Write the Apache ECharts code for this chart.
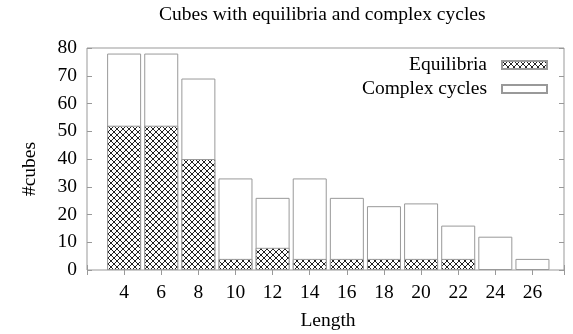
<!DOCTYPE html>
<html>
<head>
<meta charset="utf-8">
<script src="https://cdn.jsdelivr.net/npm/echarts@6/dist/echarts.min.js"></script>
<style>
  html, body { margin: 0; padding: 0; background: #fff; }
  #main { width: 573px; height: 334px; }
</style>
</head>
<body>
<div id="main"></div>
<script>
// 数据
var lengths = [4, 6, 8, 10, 12, 14, 16, 18, 20, 22, 24, 26];
var equilibria = [52, 52, 40, 4, 8, 4, 4, 4, 4, 4, 0, 0];
// 柱子总高度 (equilibria + complex cycles)
var totals = [78, 78, 69, 33, 26, 33, 26, 23, 24, 16, 12, 4];
var yTicks = [0, 10, 20, 30, 40, 50, 60, 70, 80];

var serif = 'Liberation Serif';
var fontSize = 19.5;
var frameColor = '#999';

// 交叉网纹
function hatch() {
    var c = document.createElement('canvas');
    c.width = 6;
    c.height = 6;
    var ctx = c.getContext('2d');
    ctx.fillStyle = '#fff';
    ctx.fillRect(0, 0, 6, 6);
    ctx.strokeStyle = '#222';
    ctx.lineWidth = 1;
    ctx.beginPath();
    ctx.moveTo(0, 0); ctx.lineTo(6, 6);
    ctx.moveTo(6, 0); ctx.lineTo(0, 6);
    ctx.stroke();
    return c;
}

var myChart = echarts.init(document.getElementById('main'));

myChart.setOption({
    animation: false,
    title: {
        text: 'Cubes with equilibria and complex cycles',
        left: 159,
        top: 5,
        padding: 0,
        textStyle: { fontFamily: serif, fontSize: fontSize, fontWeight: 'normal', color: '#000' }
    },
    legend: {
        orient: 'vertical',
        right: 20,
        top: 50,
        align: 'right',
        icon: 'rect',
        itemWidth: 45,
        itemHeight: 8,
        itemGap: 4,
        selectedMode: false,
        textStyle: { fontFamily: serif, fontSize: fontSize, color: '#000', padding: [0, 10, 0, 0] },
        data: ['Equilibria', 'Complex cycles']
    },
    graphic: [
        {
            type: 'text',
            x: 328,
            y: 321,
            style: { text: 'Length', font: fontSize + 'px ' + serif, fill: '#000', align: 'center', verticalAlign: 'middle' }
        },
        {
            type: 'text',
            x: 30,
            y: 169,
            rotation: Math.PI / 2,
            style: { text: '#cubes', font: fontSize + 'px ' + serif, fill: '#000', align: 'center', verticalAlign: 'middle' }
        }
    ],
    grid: {
        left: 87,
        right: 9,
        top: 48,
        bottom: 64,
        show: true,
        borderColor: frameColor,
        borderWidth: 1
    },
    xAxis: [
        {
            type: 'value',
            min: 2,
            max: 27.7,
            interval: 2,
            splitLine: { show: false },
            axisLine: { show: false },
            axisTick: { inside: true, length: 5, lineStyle: { color: frameColor } },
            axisLabel: {
                margin: 13,
                fontFamily: serif,
                fontSize: fontSize,
                color: '#000',
                formatter: function (v) { return lengths.indexOf(v) >= 0 ? String(v) : ''; }
            }
        },
        {
            type: 'value',
            position: 'top',
            min: 2,
            max: 27.7,
            interval: 2,
            splitLine: { show: false },
            axisLine: { show: false },
            axisTick: { inside: true, length: 5, lineStyle: { color: frameColor } },
            axisLabel: { show: false }
        }
    ],
    yAxis: [
        {
            type: 'value',
            min: yTicks[0],
            max: yTicks[yTicks.length - 1],
            interval: 10,
            splitLine: { show: false },
            axisLine: { show: false },
            axisTick: { inside: true, length: 5, lineStyle: { color: frameColor } },
            axisLabel: { margin: 10, fontFamily: serif, fontSize: fontSize, color: '#000' }
        },
        {
            type: 'value',
            position: 'right',
            min: 0,
            max: 80,
            interval: 10,
            splitLine: { show: false },
            axisLine: { show: false },
            axisTick: { inside: true, length: 5, lineStyle: { color: frameColor } },
            axisLabel: { show: false }
        }
    ],
    series: [
        {
            name: 'Complex cycles',
            type: 'bar',
            barWidth: 34,
            barGap: '-100%',
            itemStyle: {
                color: '#fff',
                borderColor: frameColor,
                borderWidth: 1
            },
            data: lengths.map(function (l, i) { return [l, totals[i]]; })
        },
        {
            name: 'Equilibria',
            type: 'bar',
            barWidth: 34,
            barGap: '-100%',
            itemStyle: {
                color: { image: hatch(), repeat: 'repeat' },
                borderColor: frameColor,
                borderWidth: 1
            },
            // 0 不画
            data: lengths.map(function (l, i) { return [l, equilibria[i] === 0 ? '-' : equilibria[i]]; })
        }
    ]
});
</script>
</body>
</html>
